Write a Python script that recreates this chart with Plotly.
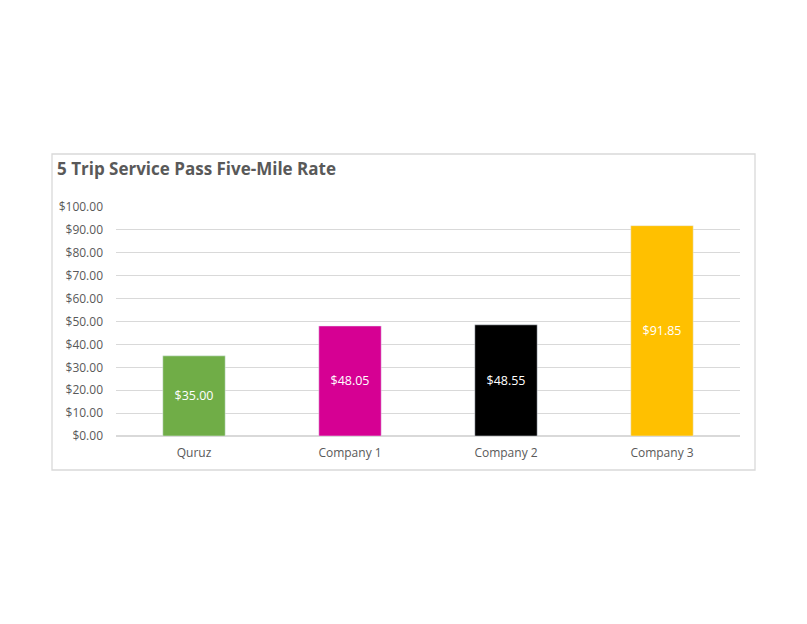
import plotly.graph_objects as go

companies = ["Quruz", "Company 1", "Company 2", "Company 3"]
rates = [35.00, 48.05, 48.55, 91.85]
bar_colors = ["#70AD47", "#D60093", "#000000", "#FFC000"]
tick_values = [0, 10, 20, 30, 40, 50, 60, 70, 80, 90, 100]
tick_labels = ["$%.2f" % v for v in tick_values]

W, H = 807, 624
# page body has an 8px margin, so figure coords = screen coords - 8
OFF = 8
L, R, T, B = 116 - OFF, 740 - OFF, 207 - OFF, 436 - OFF

fig = go.Figure(
    go.Bar(
        x=companies,
        y=rates,
        marker_color=bar_colors,
        width=0.4,
        text=["$%.2f" % v for v in rates],
        textposition="inside",
        insidetextanchor="middle",
        textfont=dict(color="white", size=12.5, family="Open Sans"),
        textangle=0,
    )
)

pw, ph = R - L, B - T
fig.add_shape(
    type="rect", xref="paper", yref="paper",
    x0=(52 - OFF - L) / pw, x1=(755 - OFF - L) / pw,
    y0=(B - (470 - OFF)) / ph, y1=(B - (154 - OFF)) / ph,
    line=dict(color="#D9D9D9", width=1.3),
)

fig.update_layout(
    width=W, height=H,
    margin=dict(l=L, r=W - R, t=T, b=H - B),
    paper_bgcolor="white",
    plot_bgcolor="white",
    showlegend=False,
    font=dict(family="Open Sans", color="#595959", size=12),
    title=dict(
        text="<b>5 Trip Service Pass Five-Mile Rate</b>",
        x=(57 - OFF) / W, xanchor="left",
        y=1 - (169 - OFF) / H, yanchor="middle",
        font=dict(size=17, color="#595959", family="Open Sans"),
    ),
)
fig.update_xaxes(showgrid=False, showline=False, ticks="",
                 ticklabelstandoff=8, tickfont=dict(size=12))
fig.update_yaxes(
    range=[0, 100],
    tickvals=tick_values,
    ticktext=tick_labels,
    showgrid=True,
    gridcolor="#D9D9D9",
    gridwidth=1,
    zeroline=True,
    zerolinecolor="#D9D9D9",
    ticks="",
    ticklabelstandoff=12,
    tickfont=dict(size=12),
)

fig.write_html("out.html")
